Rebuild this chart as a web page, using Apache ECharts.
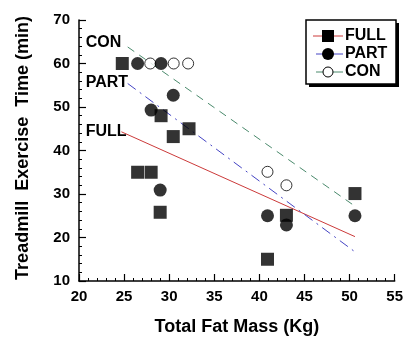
<!DOCTYPE html>
<html><head><meta charset="utf-8">
<script src="https://cdn.jsdelivr.net/npm/echarts@6/dist/echarts.min.js"></script>
<style>html,body{margin:0;padding:0;background:#fff}#c{width:406px;height:341px}</style>
</head><body><div id="c"></div>
<script>
// Data
const fullX = [24.8, 26.5, 28.0, 29.0, 29.1, 30.45, 32.2, 40.9, 43.0, 50.6];
const fullY = [60, 35, 35, 25.8, 48, 43.2, 45, 15, 25.1, 30.1];
const partX = [26.5, 29.1, 30.45, 28.0, 29.0, 40.9, 43.0, 50.6];
const partY = [60, 60, 52.7, 49.3, 30.9, 25, 22.9, 25];
const conX = [27.9, 30.5, 32.1, 40.9, 43.0];
const conY = [60, 60, 60, 35.1, 32.0];
// regression line endpoints (x, y)
const fullFitX = [24.7, 50.6], fullFitY = [44.3, 20.2];
const partFitX = [25.4, 50.6], partFitY = [55.4, 16.7];
const conFitX = [25.4, 50.6], conFitY = [63.8, 27.2];
const groupNames = ['FULL', 'PART', 'CON'];
// in-plot line labels (anchor x, y)
const annX = [20.75, 20.75, 20.75];
const annY = [44.4, 55.7, 64.9];
const xTicks = [20, 25, 30, 35, 40, 45, 50, 55];
const yTicks = [10, 20, 30, 40, 50, 60, 70];

const zip = (a, b) => a.map((v, i) => [v, b[i]]);
const FONT = '"Liberation Sans", Arial, sans-serif';
const RED = '#cc3a3a', BLUE = '#4444c4', GREEN = '#4a8a6c';

const chart = echarts.init(document.getElementById('c'), null, {renderer: 'canvas'});
const axisCommon = {
  axisLine: {show: true, lineStyle: {color: '#000', width: 1.5}},
  axisTick: {show: true, inside: true, length: 7, lineStyle: {color: '#000', width: 1.2}},
  minorTick: {show: true, splitNumber: 5, length: 3, lineStyle: {color: '#000', width: 1}},
  splitLine: {show: false},
  axisLabel: {color: '#000', fontFamily: FONT, fontWeight: 'bold', fontSize: 15}
};
const annLabel = (txt) => ({
  show: true, formatter: txt, position: 'right', distance: 0,
  color: '#000', opacity: 1, fontFamily: FONT, fontWeight: 'bold', fontSize: 16
});

chart.setOption({
  animation: false,
  backgroundColor: '#fff',
  grid: {left: 79, right: 8, top: 20, bottom: 47, containLabel: false},
  xAxis: Object.assign({}, axisCommon, {
    type: 'value', min: xTicks[0], max: xTicks[xTicks.length - 1], interval: 5,
    name: 'Total Fat Mass (Kg)', nameLocation: 'middle', nameGap: 37,
    nameTextStyle: {color: '#000', fontFamily: FONT, fontWeight: 'bold', fontSize: 18},
    axisLabel: Object.assign({}, axisCommon.axisLabel, {margin: 8})
  }),
  yAxis: Object.assign({}, axisCommon, {
    type: 'value', min: yTicks[0], max: yTicks[yTicks.length - 1], interval: 10,
    axisLabel: Object.assign({}, axisCommon.axisLabel, {margin: 9})
  }),
  series: [
    {type: 'line', data: zip(fullFitX, fullFitY), symbol: 'none', z: 1,
     lineStyle: {color: RED, width: 1}},
    {type: 'line', data: zip(partFitX, partFitY), symbol: 'none', z: 1,
     lineStyle: {color: BLUE, width: 1, type: [10, 5, 2, 5]}},
    {type: 'line', data: zip(conFitX, conFitY), symbol: 'none', z: 1,
     lineStyle: {color: GREEN, width: 1, type: [8, 6]}},
    {type: 'scatter', z: 5, symbolSize: 0, itemStyle: {color: '#ffffff'}, silent: true,
     data: groupNames.map((n, i) => ({value: [annX[i], annY[i]], label: annLabel(n)}))},
    {name: 'CON', type: 'scatter', z: 2, data: zip(conX, conY), symbol: 'circle', symbolSize: 11,
     itemStyle: {color: '#fff', borderColor: '#000', borderWidth: 1}},
    {name: 'FULL', type: 'scatter', z: 3, data: zip(fullX, fullY), symbol: 'rect', symbolSize: 13,
     itemStyle: {color: '#000'}},
    {name: 'PART', type: 'scatter', z: 4, data: zip(partX, partY), symbol: 'circle', symbolSize: 13,
     itemStyle: {color: '#000'}}
  ],
  graphic: [
    {type: 'text', x: 23, y: 148, rotation: Math.PI / 2,
     style: {text: 'Treadmill  Exercise  Time (min)', fill: '#000', font: 'bold 18px ' + FONT,
             align: 'center', verticalAlign: 'middle'}, z: 10},
    {type: 'rect', shape: {x: 309, y: 23, width: 90, height: 64}, style: {fill: '#000'}, z: 10},
    {type: 'rect', shape: {x: 306, y: 20, width: 90, height: 64}, style: {fill: '#fff', stroke: '#000', lineWidth: 1.5}, z: 11},
    {type: 'line', shape: {x1: 313, y1: 36, x2: 343, y2: 36}, style: {stroke: RED, lineWidth: 1}, z: 12},
    {type: 'rect', shape: {x: 322, y: 30, width: 12, height: 12}, style: {fill: '#000'}, z: 13},
    {type: 'text', x: 345, y: 36, style: {text: groupNames[0], fill: '#000', font: 'bold 16px ' + FONT, verticalAlign: 'middle'}, z: 13},
    {type: 'line', shape: {x1: 316, y1: 54, x2: 343, y2: 54}, style: {stroke: BLUE, lineWidth: 1}, z: 12},
    {type: 'circle', shape: {cx: 328, cy: 54, r: 6}, style: {fill: '#000'}, z: 13},
    {type: 'text', x: 345, y: 54, style: {text: groupNames[1], fill: '#000', font: 'bold 16px ' + FONT, verticalAlign: 'middle'}, z: 13},
    {type: 'line', shape: {x1: 316, y1: 72, x2: 343, y2: 72}, style: {stroke: GREEN, lineWidth: 1}, z: 12},
    {type: 'circle', shape: {cx: 328, cy: 72, r: 5}, style: {fill: '#fff', stroke: '#000', lineWidth: 1}, z: 13},
    {type: 'text', x: 345, y: 72, style: {text: groupNames[2], fill: '#000', font: 'bold 16px ' + FONT, verticalAlign: 'middle'}, z: 13}
  ]
});
</script>
</body></html>
